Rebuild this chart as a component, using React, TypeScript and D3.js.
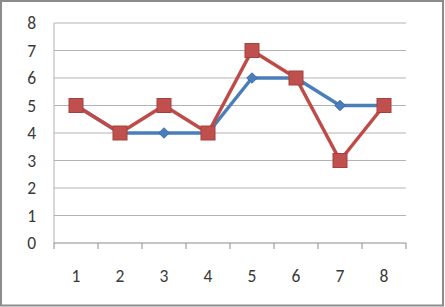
import { useEffect, useRef } from 'react';
import * as d3 from 'd3';

const categories = ['1', '2', '3', '4', '5', '6', '7', '8'];
const seriesBlue = [5, 4, 4, 4, 6, 6, 5, 5];
const seriesRed = [5, 4, 5, 4, 7, 6, 3, 5];
const yTicks = [0, 1, 2, 3, 4, 5, 6, 7, 8];

export default function App() {
  const svgRef = useRef<SVGSVGElement>(null);

  useEffect(() => {
    if (!svgRef.current) return;
    const svg = d3.select(svgRef.current);
    svg.selectAll('*').remove();

    const W = 445, H = 307;
    const left = 54, right = 406, top = 23, bottom = 243;

    // chart frame
    svg.append('rect')
      .attr('x', 1).attr('y', 1)
      .attr('width', W - 3).attr('height', H - 2.5)
      .style('fill', '#fff')
      .style('stroke', '#8c8c8c')
      .style('stroke-width', 2);

    const x = d3.scaleBand().domain(categories).range([left, right]);
    const y = d3.scaleLinear().domain([0, 8]).range([bottom, top]);

    // gridlines
    yTicks.filter(t => t > 0).forEach(t => {
      svg.append('line')
        .attr('x1', left).attr('x2', right)
        .attr('y1', y(t)).attr('y2', y(t))
        .style('stroke', '#b3b3b3')
        .style('stroke-width', 1);
    });

    // y labels
    yTicks.forEach(t => {
      svg.append('text')
        .attr('x', 36).attr('y', y(t))
        .attr('text-anchor', 'end')
        .attr('dominant-baseline', 'central')
        .style('font-family', 'Carlito, "Liberation Sans", sans-serif')
        .style('font-size', '17.5px')
        .style('fill', '#3a3a3a')
        .text(t);
    });

    // axes
    svg.append('line')
      .attr('x1', left).attr('x2', left)
      .attr('y1', top).attr('y2', bottom)
      .style('stroke', '#b3b3b3').style('stroke-width', 1);
    svg.append('line')
      .attr('x1', left).attr('x2', right)
      .attr('y1', bottom).attr('y2', bottom)
      .style('stroke', '#8c8c8c').style('stroke-width', 1);

    // x ticks
    const edges = categories.map(c => x(c)!).concat([right]);
    edges.forEach(e => {
      svg.append('line')
        .attr('x1', e).attr('x2', e)
        .attr('y1', bottom).attr('y2', bottom + 6)
        .style('stroke', '#8c8c8c').style('stroke-width', 1);
    });

    categories.forEach(c => {
      svg.append('text')
        .attr('x', x(c)! + x.bandwidth() / 2)
        .attr('y', 276)
        .attr('text-anchor', 'middle')
        .attr('dominant-baseline', 'central')
        .style('font-family', 'Carlito, "Liberation Sans", sans-serif')
        .style('font-size', '17.5px')
        .style('fill', '#3a3a3a')
        .text(c);
    });

    const cx = (i: number) => x(categories[i])! + x.bandwidth() / 2;
    const line = d3.line<number>().x((_, i) => cx(i)).y(d => y(d));

    // blue series
    svg.append('path')
      .datum(seriesBlue)
      .attr('d', line)
      .style('fill', 'none')
      .style('stroke', '#4a7ebb')
      .style('stroke-width', 3.5)
      .style('stroke-linejoin', 'round');
    svg.selectAll('.diamond')
      .data(seriesBlue)
      .enter()
      .append('path')
      .attr('class', 'diamond')
      .attr('d', d3.symbol(d3.symbolDiamond2, 70)())
      .attr('transform', (d, i) => `translate(${cx(i)},${y(d)})`)
      .style('fill', '#4a7ebb')
      .style('stroke', '#3d6ba3')
      .style('stroke-width', 1);

    // red series
    svg.append('path')
      .datum(seriesRed)
      .attr('d', line)
      .style('fill', 'none')
      .style('stroke', '#be4b48')
      .style('stroke-width', 3.5)
      .style('stroke-linejoin', 'round');
    svg.selectAll('.square')
      .data(seriesRed)
      .enter()
      .append('rect')
      .attr('class', 'square')
      .attr('x', (d, i) => cx(i) - 7)
      .attr('y', d => y(d) - 7)
      .attr('width', 14).attr('height', 14)
      .style('fill', '#c0504d')
      .style('stroke', '#a5403d')
      .style('stroke-width', 1);
  }, []);

  return (
    <svg
      ref={svgRef}
      width={445}
      height={307}
      style={{ position: 'absolute', left: 0, top: 0, display: 'block' }}
    />
  );
}
